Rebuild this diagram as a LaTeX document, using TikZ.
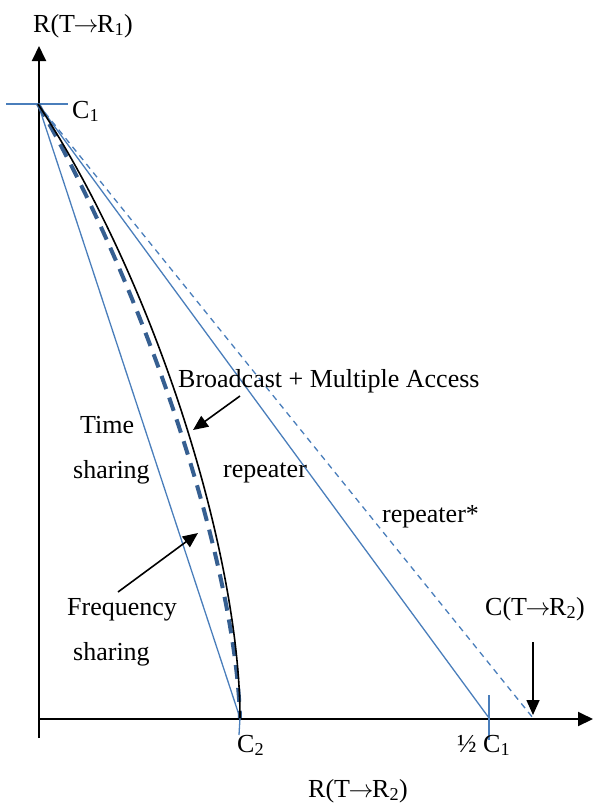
\documentclass[tikz,border=0pt]{standalone}
\usepackage{fontspec}
\setmainfont{Liberation Serif}
\usetikzlibrary{arrows.meta}
\definecolor{lineblue}{RGB}{74,126,187}
\definecolor{darkblue}{RGB}{54,95,145}
\newcommand{\toarr}{\ensuremath{\mkern-1mu\rightarrow\mkern-1mu}}
\tikzset{
  axis/.style={line width=2pt, -{Triangle[length=15pt,width=14pt]}},
  pointer/.style={line width=1.6pt, -{Triangle[length=15pt,width=13pt]}},
  bluel/.style={draw=lineblue, line width=1.3pt},
  bluedash/.style={draw=lineblue, line width=1.3pt, dash pattern=on 6pt off 5pt},
  fdma/.style={draw=darkblue, line width=4pt, dash pattern=on 14pt off 9pt},
  bcma/.style={draw=black, line width=1.6pt},
  lbl/.style={anchor=base west, inner sep=0pt, font=\fontsize{26}{30}\selectfont},
}
\begin{document}
\begin{tikzpicture}[x=1pt, y=-1pt]
\useasboundingbox (0,0) rectangle (594,807);

% axes
\coordinate (O) at (39,719);
\coordinate (ybot) at (39,738);
\coordinate (ytip) at (39,46);
\coordinate (xtip) at (593,719);
\draw[axis] (ybot) -- (ytip);
\draw[axis] (O) -- (xtip);

% key points of the region
\coordinate (C1) at (38,104);
\coordinate (C2) at (240,718);
\coordinate (H) at (489,718);
\coordinate (S) at (533,718);

% ticks
\coordinate (t1a) at (6,104);
\coordinate (t1b) at (68,104);
\draw[bluel] (t1a) -- (t1b);
\coordinate (t2a) at (489,695);
\coordinate (t2b) at (489,740);
\draw[bluel] (t2a) -- (t2b);
\coordinate (t3b) at (239,735);
\draw[bluel] (C2) -- (t3b);

% rate region boundaries
\draw[bluel] (C1) -- (C2);
\draw[bluel] (C1) -- (H);
\draw[bluedash] (C1) -- (S);
\draw[fdma] (C1) .. controls (145,290) and (235,560) .. (C2);
\draw[bcma] (C1) .. controls (160,290) and (240,560) .. (C2);

% labels
\node[lbl] (ly) at (33,32) {R(T\toarr R\textsubscript{1})};
\node[lbl] (lc1) at (72,118) {C\textsubscript{1}};
\node[lbl] (lbc) at (178,387) {Broadcast + Multiple Access};
\node[lbl] (lrep) at (223,477) {repeater};
\node[lbl] (lrs) at (382,522) {repeater*};
\node[lbl] (lt1) at (80,433) {Time};
\node[lbl] (lt2) at (73,478) {sharing};
\node[lbl] (lf1) at (67,615) {Frequency};
\node[lbl] (lf2) at (73,660) {sharing};
\node[lbl] (lcr) at (485,615) {C(T\toarr R\textsubscript{2})};
\node[lbl] (lc2) at (237,752) {C\textsubscript{2}};
\node[lbl] (lh) at (457,752) {½ C\textsubscript{1}};
\node[lbl] (lx) at (308,797) {R(T\toarr R\textsubscript{2})};

% pointers
\coordinate (pb0) at (240,396);
\coordinate (pb1) at (193,430);
\draw[pointer] (pb0) -- (pb1);
\coordinate (pf0) at (118,592);
\coordinate (pf1) at (198,533);
\draw[pointer] (pf0) -- (pf1);
\coordinate (pc0) at (533,642);
\coordinate (pc1) at (533,715);
\draw[pointer] (pc0) -- (pc1);
\end{tikzpicture}
\end{document}
